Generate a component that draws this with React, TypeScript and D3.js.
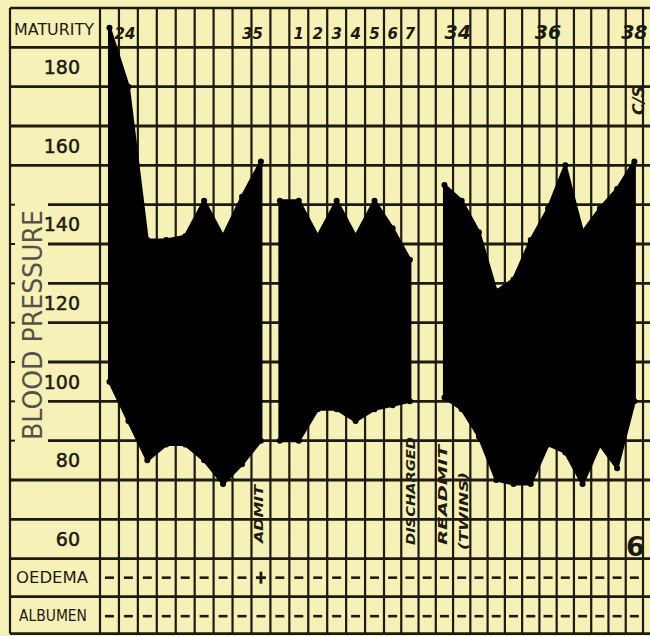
import React from 'react';
import * as d3 from 'd3';

const W = 650;
const H = 636;
const NCOL = 30;

// Blood pressure readings, by chart column (systolic / diastolic, mmHg)
const seg1Cols = [0, 1, 2, 3, 4, 5, 6, 7, 8];
const seg1Sys = [190, 175, 136, 136, 137, 146, 137, 147, 156];
const seg1Dia = [100, 90, 80, 84, 84, 80, 74, 79, 85];

const seg2Cols = [9, 10, 11, 12, 13, 14, 15, 16];
const seg2Sys = [146, 146, 137, 146, 137, 146, 139, 131];
const seg2Dia = [85, 85, 93, 93, 90, 93, 94, 95];

const seg3Cols = [18, 19, 20, 21, 22, 23, 24, 25, 26, 27, 28, 29];
const seg3Sys = [150, 146, 138, 123, 126, 136, 144, 155, 138, 144, 149, 156];
const seg3Dia = [96, 93, 86, 75, 74, 74, 84, 82, 74, 84, 78, 95];

const yTicks = [180, 160, 140, 120, 100, 80, 60];
const gridValues = [185, 175, 165, 155, 145, 135, 125, 115, 105, 95, 85, 75, 65, 55];
const partialGridValues = [145, 135, 125, 115, 105, 95, 85];

const maturityLabels = ['24', '35', '1', '2', '3', '4', '5', '6', '7', '34', '36', '38'];
const maturityCols = [0, 8, 10, 11, 12, 13, 14, 15, 16, 18, 24, 29];

const oedema = ['-', '-', '-', '-', '-', '-', '-', '-', '+', '-', '-', '-', '-', '-', '-', '-', '-', '-', '-', '-', '-', '-', '-', '-', '-', '-', '-', '-', '-', '-'];
const albumen = ['-', '-', '-', '-', '-', '-', '-', '-', '-', '-', '-', '-', '-', '-', '-', '-', '-', '-', '-', '-', '-', '-', '-', '-', '-', '-', '-', '-', '-', '-'];

const notes = ['ADMIT', 'DISCHARGED', 'READMIT', '(TWINS)'];
const noteCols = [8, 16, 18, 19];

const PAPER = '#f6f1b6';
const INK = '#1d1a12';
const FONT = 'DejaVu Sans, sans-serif';

export default function App() {
  const x = d3.scaleLinear().domain([0, 15, 30]).range([100, 384, 643]);
  const y = d3.scaleLinear().domain([180, 60]).range([67, 539]);
  const cx = (i: number) => x(i + 0.5);

  const top = 8;
  const left = 10;
  const bpBottom = y(55);
  const oedBottom = bpBottom + 38;
  const bottom = oedBottom + 37;

  const segs = [
    { cols: seg1Cols, sys: seg1Sys, dia: seg1Dia },
    { cols: seg2Cols, sys: seg2Sys, dia: seg2Dia },
    { cols: seg3Cols, sys: seg3Sys, dia: seg3Dia },
  ].map((s) => s.cols.map((c, i) => ({ c, s: s.sys[i], d: s.dia[i] })));

  const area = d3
    .area<{ c: number; s: number; d: number }>()
    .x((d) => cx(d.c))
    .y0((d) => y(d.d))
    .y1((d) => y(d.s))
    .curve(d3.curveLinear);

  const vlines = d3.range(NCOL + 1);

  return (
    <svg width={W} height={H} style={{ position: 'absolute', left: 0, top: 0 }}>
      <rect x={0} y={0} width={W} height={H} fill={PAPER} />

      {/* vertical grid lines */}
      {vlines.map((i) => (
        <line key={`v${i}`} x1={x(i)} x2={x(i)} y1={top} y2={bottom} stroke={INK} strokeWidth={2.2} />
      ))}
      <line x1={left} x2={left} y1={top} y2={bottom} stroke={INK} strokeWidth={2.2} />

      {/* horizontal grid lines */}
      <line x1={left} x2={W} y1={top} y2={top} stroke={INK} strokeWidth={2.5} />
      {gridValues.map((v) => (
        <line
          key={`h${v}`}
          x1={partialGridValues.includes(v) ? 48 : left}
          x2={W}
          y1={y(v)}
          y2={y(v)}
          stroke={INK}
          strokeWidth={2.8}
        />
      ))}
      {partialGridValues.map((v) => (
        <line key={`t${v}`} x1={left} x2={left + 5} y1={y(v)} y2={y(v)} stroke={INK} strokeWidth={2} />
      ))}
      <line x1={left} x2={W} y1={oedBottom} y2={oedBottom} stroke={INK} strokeWidth={2.8} />
      <line x1={left} x2={W} y1={bottom} y2={bottom} stroke={INK} strokeWidth={2.8} />

      {/* BP area */}
      {segs.map((pts, i) => (
        <path key={i} d={area(pts) || ''} fill="#000" stroke="#000" strokeWidth={3} strokeLinejoin="round" />
      ))}
      {segs.map((pts, i) =>
        pts.map((p, j) => (
          <g key={`p${i}-${j}`}>
            <circle cx={cx(p.c)} cy={y(p.s)} r={3} fill="#000" />
            <circle cx={cx(p.c)} cy={y(p.d)} r={3} fill="#000" />
          </g>
        ))
      )}

      {/* y tick labels */}
      {yTicks.map((v) => (
        <text key={`yl${v}`} x={80} y={y(v)} dy="0.36em" textAnchor="end" fontFamily={FONT} fontSize={19} fill={INK} stroke={INK} strokeWidth={0.5}>
          {v}
        </text>
      ))}

      <text
        transform={`translate(32,${y(120) + 22}) rotate(-90)`}
        textAnchor="middle"
        dy="0.36em"
        fontFamily={FONT}
        fontSize={27}
        fill="#55524a"
        textLength={230}
        lengthAdjust="spacingAndGlyphs"
      >
        BLOOD PRESSURE
      </text>

      {/* header */}
      <text x={14} y={top + 27} fontFamily={FONT} fontSize={15} fill={INK} textLength={80} lengthAdjust="spacingAndGlyphs">
        MATURITY
      </text>
      {maturityLabels.map((t, i) => {
        const c = maturityCols[i];
        const anchor = t === '24' || t === '34' ? 'start' : t === '35' ? 'end' : 'middle';
        const px = t === '24' ? cx(c) + 5 : t === '35' ? cx(c) + 2 : cx(c);
        const big = t.length === 2 && t !== '24' && t !== '35';
        return (
          <text
            key={`m${i}`}
            x={px}
            y={top + 31}
            textAnchor={anchor}
            fontFamily={FONT}
            fontStyle="italic"
            fontWeight="bold"
            fontSize={big ? 19 : 15}
            fill={INK}
          >
            {t}
          </text>
        );
      })}

      {/* annotations */}
      {notes.map((t, i) => {
        const c = noteCols[i];
        const px = t === 'ADMIT' ? cx(c) - 3 : t === 'DISCHARGED' ? cx(c) : t === 'READMIT' ? cx(c) - 2 : cx(c) + 2;
        const py = t === 'ADMIT' ? 543 : t === 'DISCHARGED' ? 545 : t === 'READMIT' ? 545 : 550;
        const len = t === 'ADMIT' ? 58 : t === 'DISCHARGED' ? 108 : t === 'READMIT' ? 100 : 78;
        return (
          <text
            key={`n${i}`}
            transform={`translate(${px},${py}) rotate(-90)`}
            dy="0.36em"
            fontFamily={FONT}
            fontStyle="italic"
            fontWeight="bold"
            fontSize={13}
            fill={INK}
            textLength={len}
            lengthAdjust="spacingAndGlyphs"
          >
            {t}
          </text>
        );
      })}
      <text transform={`translate(${cx(29) + 4},115) rotate(-90)`} dy="0.36em" fontFamily={FONT} fontStyle="italic" fontWeight="bold" fontSize={16} fill={INK}>
        C/S
      </text>
      <text x={cx(29) + 1} y={556} textAnchor="middle" fontFamily={FONT} fontWeight="bold" fontSize={27} fill={INK}>
        6
      </text>

      {/* oedema / albumen */}
      <text x={16} y={(bpBottom + oedBottom) / 2} dy="0.36em" fontFamily={FONT} fontSize={16} fill={INK} textLength={72} lengthAdjust="spacingAndGlyphs">
        OEDEMA
      </text>
      <text x={19} y={(oedBottom + bottom) / 2} dy="0.36em" fontFamily={FONT} fontSize={15} fill={INK} textLength={68} lengthAdjust="spacingAndGlyphs">
        ALBUMEN
      </text>
      {oedema.map((s, i) => {
        const yy = (bpBottom + oedBottom) / 2;
        return s === '+' ? (
          <g key={`o${i}`}>
            <line x1={cx(i) - 5} x2={cx(i) + 5} y1={yy} y2={yy} stroke={INK} strokeWidth={2.8} />
            <line x1={cx(i)} x2={cx(i)} y1={yy - 6} y2={yy + 6} stroke={INK} strokeWidth={2.8} />
          </g>
        ) : (
          <line key={`o${i}`} x1={cx(i) - 4.5} x2={cx(i) + 4.5} y1={yy} y2={yy} stroke={INK} strokeWidth={2.6} />
        );
      })}
      {albumen.map((s, i) => {
        const yy = (oedBottom + bottom) / 2 + 1;
        return <line key={`a${i}`} x1={cx(i) - 4.5} x2={cx(i) + 4.5} y1={yy} y2={yy} stroke={INK} strokeWidth={2.6} />;
      })}
    </svg>
  );
}
